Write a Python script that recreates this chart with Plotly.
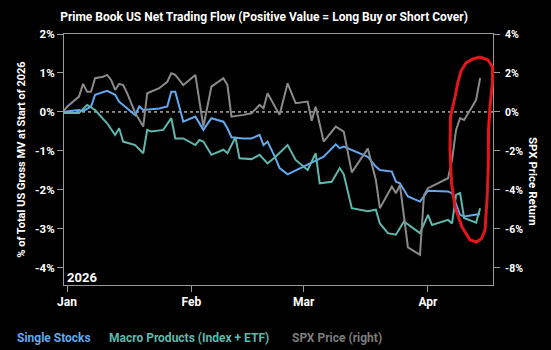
import plotly.graph_objects as go

# ---------------- data ----------------
single_dates = ["2025-12-31","2026-01-04","2026-01-05","2026-01-07","2026-01-08","2026-01-11","2026-01-13",
                "2026-01-14","2026-01-15","2026-01-18","2026-01-19","2026-01-20","2026-01-24","2026-01-26",
                "2026-01-27","2026-01-28","2026-01-30","2026-02-02","2026-02-04","2026-02-06","2026-02-09",
                "2026-02-10","2026-02-11","2026-02-14","2026-02-16","2026-02-18","2026-02-19","2026-02-20",
                "2026-02-22","2026-02-23","2026-02-25","2026-03-01","2026-03-03","2026-03-06","2026-03-09",
                "2026-03-10","2026-03-11","2026-03-17","2026-03-19","2026-03-20","2026-03-23","2026-03-24",
                "2026-03-25","2026-03-27","2026-03-30","2026-04-01","2026-04-06","2026-04-07","2026-04-08",
                "2026-04-09","2026-04-10","2026-04-14"]
single_vals = [0.00,0.05,0.02,0.14,0.44,0.54,0.44,
               0.26,0.18,-0.08,0.14,0.05,0.09,0.14,
               0.52,0.52,-0.25,-0.12,-0.46,-0.16,-0.25,
               -0.42,-0.65,-0.68,-0.68,-0.59,-0.85,-0.76,
               -1.19,-1.44,-1.60,-1.41,-1.30,-1.15,-0.83,
               -0.93,-0.89,-1.15,-1.40,-1.49,-1.53,-1.79,
               -1.83,-2.17,-2.30,-2.02,-2.04,-2.09,-2.34,
               -2.64,-2.68,-2.62]

macro_dates = ["2025-12-31","2026-01-04","2026-01-06","2026-01-08","2026-01-11","2026-01-13","2026-01-14",
               "2026-01-15","2026-01-18","2026-01-20","2026-01-21","2026-01-22","2026-01-25","2026-01-27",
               "2026-01-28","2026-01-30","2026-02-02","2026-02-03","2026-02-04","2026-02-06","2026-02-09",
               "2026-02-10","2026-02-12","2026-02-13","2026-02-16","2026-02-18","2026-02-20","2026-02-22",
               "2026-02-25","2026-02-27","2026-03-02","2026-03-04","2026-03-05","2026-03-08","2026-03-10",
               "2026-03-11","2026-03-13","2026-03-17","2026-03-19","2026-03-20","2026-03-22","2026-03-24",
               "2026-03-26","2026-03-30","2026-04-01","2026-04-02","2026-04-06","2026-04-07","2026-04-08",
               "2026-04-09","2026-04-10","2026-04-13","2026-04-14"]
macro_vals = [-0.03,-0.03,0.18,0.05,-0.29,-0.59,-0.42,
              -0.76,-0.85,-1.06,-0.46,-0.50,-0.46,-0.16,
              -0.68,-0.68,-0.85,-0.72,-0.76,-1.10,-0.97,
              -1.06,-0.65,-1.19,-1.21,-1.10,-1.32,-1.15,
              -0.85,-1.23,-1.49,-1.06,-1.83,-1.79,-1.44,
              -1.60,-2.47,-2.55,-2.51,-2.86,-3.11,-3.15,
              -2.81,-3.11,-2.64,-2.90,-2.77,-2.86,-2.13,
              -2.08,-2.72,-2.84,-2.47]

spx_dates = ["2025-12-31","2026-01-01","2026-01-04","2026-01-05","2026-01-06","2026-01-07","2026-01-08",
             "2026-01-10","2026-01-11","2026-01-12","2026-01-13","2026-01-14","2026-01-15","2026-01-16",
             "2026-01-18","2026-01-20","2026-01-21","2026-01-22","2026-01-24","2026-01-26","2026-01-27",
             "2026-01-28","2026-01-30","2026-02-02","2026-02-03","2026-02-04","2026-02-06","2026-02-09",
             "2026-02-10","2026-02-11","2026-02-14","2026-02-16","2026-02-18","2026-02-19","2026-02-20",
             "2026-02-23","2026-02-25","2026-02-27","2026-03-02","2026-03-03","2026-03-04","2026-03-06",
             "2026-03-09","2026-03-11","2026-03-13","2026-03-17","2026-03-19","2026-03-20","2026-03-23",
             "2026-03-24","2026-03-25","2026-03-27","2026-03-30","2026-03-31","2026-04-01","2026-04-06",
             "2026-04-07","2026-04-08","2026-04-09","2026-04-10","2026-04-12","2026-04-13","2026-04-14"]
spx_vals = [0.00,0.27,0.79,1.44,1.04,1.04,1.73,
            1.81,1.90,1.64,1.13,1.44,1.38,0.96,
            -0.05,-0.75,0.96,1.04,1.22,1.55,1.98,
            1.90,1.38,1.90,0.62,-0.75,1.30,1.73,
            1.38,-0.24,-0.15,-0.07,0.36,0.19,0.96,
            -0.15,1.47,0.45,0.53,-0.45,0.27,-1.52,
            -0.75,-1.01,-3.10,-1.88,-3.49,-4.94,-3.83,
            -4.17,-3.74,-6.95,-7.33,-4.26,-3.91,-3.40,
            -2.46,-0.92,-0.32,-0.41,0.27,0.62,1.74]

left_ticks = [2, 1, 0, -1, -2, -3, -4]
right_ticks = [4, 2, 0, -2, -4, -6, -8]
month_ticks = ["2026-01-01", "2026-02-01", "2026-03-01", "2026-04-01"]
month_labels = ["Jan", "Feb", "Mar", "Apr"]

# ---------------- styling ----------------
W, H = 551, 350
L, R, T, B = 64, 493, 34, 285
FONT = "Roboto, sans-serif"
C_SINGLE = "#62a9f0"
C_MACRO = "#5fb7ad"
C_SPX = "#8a8a8a"
AXC = "#9a9a9a"


def px(x):
    return (x - L) / (R - L)


def py(y):
    return (B - y) / (B - T)


def f(size, color="white"):
    return dict(family=FONT, size=size, color=color, weight="bold")


fig = go.Figure()
fig.add_trace(go.Scatter(x=single_dates, y=single_vals, mode="lines", name="Single Stocks",
                         line=dict(color=C_SINGLE, width=2), yaxis="y"))
fig.add_trace(go.Scatter(x=macro_dates, y=macro_vals, mode="lines", name="Macro Products (Index + ETF)",
                         line=dict(color=C_MACRO, width=2), yaxis="y"))
fig.add_trace(go.Scatter(x=spx_dates, y=spx_vals, mode="lines", name="SPX Price (right)",
                         line=dict(color=C_SPX, width=2), yaxis="y2"))

fig.update_layout(
    width=W, height=H,
    margin=dict(l=L, r=W - R, t=T, b=H - B),
    paper_bgcolor="black", plot_bgcolor="black",
    showlegend=False,
    title=dict(text="Prime Book US Net Trading Flow (Positive Value = Long Buy or Short Cover)",
               font=f(12),
               x=264 / W, xanchor="center", y=1 - 17 / H, yanchor="middle", xref="container", yref="container"),
    xaxis=dict(type="date", range=["2025-12-31 06:00", "2026-04-17 05:00"],
               tickvals=month_ticks, ticktext=month_labels,
               ticks="outside", ticklen=6, tickcolor=AXC, tickwidth=1,
               showline=True, linecolor=AXC, linewidth=1, mirror=True,
               showgrid=False, zeroline=False, tickfont=f(12)),
    yaxis=dict(range=[-4.44, 2], tickvals=left_ticks, ticktext=[f"{v}%" for v in left_ticks],
               ticks="outside", ticklen=6, tickcolor=AXC, tickwidth=1,
               showline=True, linecolor=AXC, linewidth=1,
               showgrid=False, zeroline=False, tickfont=f(11.5),
               title=dict(text="% of Total US Gross MV at Start of 2026", font=f(11), standoff=7)),
    yaxis2=dict(range=[-8.88, 4], tickvals=right_ticks, ticktext=[f"{v}%" for v in right_ticks],
                overlaying="y", side="right",
                ticks="outside", ticklen=6, tickcolor=AXC, tickwidth=1, ticklabelstandoff=3,
                showline=True, linecolor=AXC, linewidth=1,
                showgrid=False, zeroline=False, tickfont=f(10.5)),
)

# dashed zero line
fig.add_shape(type="line", xref="paper", yref="y", x0=0, x1=1, y0=0, y1=0,
              line=dict(color="white", width=1, dash="3px,3px"), layer="below")

# right axis title
fig.add_annotation(text="SPX Price Return", xref="paper", yref="paper", x=px(542), y=py(181),
                   textangle=90, showarrow=False, font=f(11.5))

# 2026 label
fig.add_annotation(text="2026", xref="paper", yref="paper", x=px(65), y=py(277.5),
                   xanchor="left", yanchor="middle", showarrow=False, font=f(13))

# legend as colored text
for label, color, x0 in [("Single Stocks", C_SINGLE, 15),
                         ("Macro Products (Index + ETF)", C_MACRO, 107),
                         ("SPX Price (right)", "#7d7d7d", 290)]:
    fig.add_annotation(text=label, xref="paper", yref="paper", x=px(x0), y=py(337.5),
                       xanchor="left", yanchor="middle", showarrow=False, font=f(12, color))

# red hand-drawn highlight loop
loop = [(480, 57), (488, 60), (492.5, 67), (492.5, 82), (490, 107), (488.5, 130), (488.3, 167),
        (487, 200), (485, 230), (481.5, 238.5), (476.5, 242), (470, 240), (462, 227), (455, 207),
        (451.5, 183), (450, 150), (450.5, 117), (455, 97), (458, 82), (461, 71), (466, 63), (473, 59), (480, 57)]
path = "M " + " L ".join(f"{px(x):.4f},{py(y):.4f}" for x, y in loop)
fig.add_shape(type="path", path=path, xref="paper", yref="paper",
              line=dict(color="#e3161b", width=3), layer="above")

fig.write_html("out.html")
